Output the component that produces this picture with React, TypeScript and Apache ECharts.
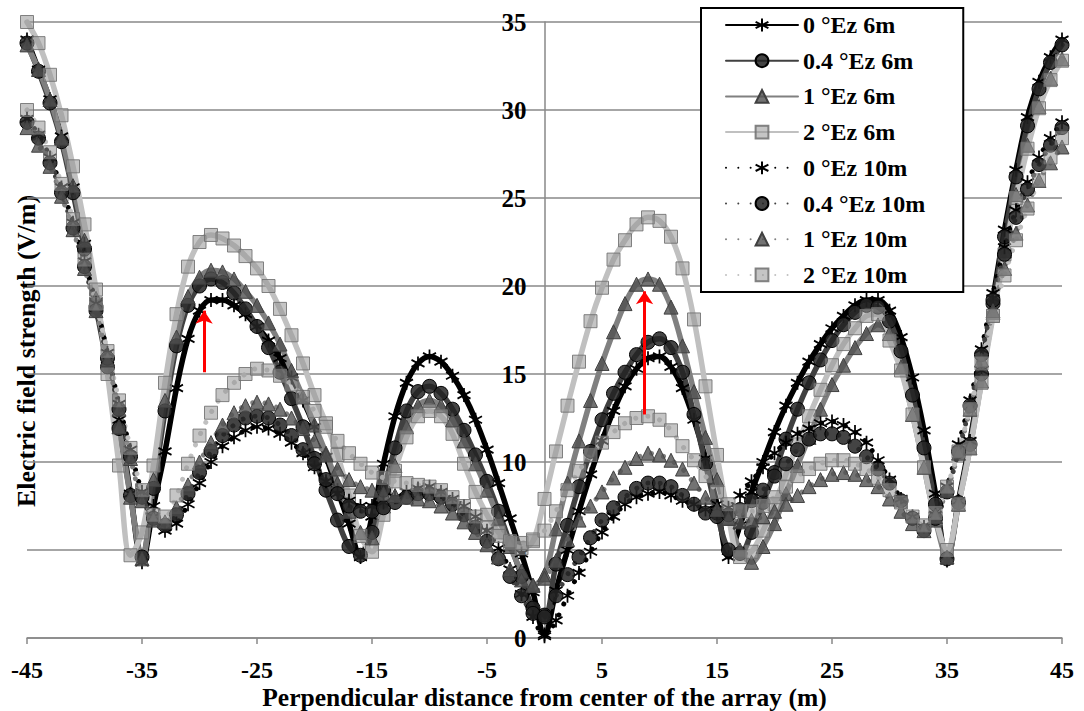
import React, { useEffect, useRef } from "react";
import * as echarts from "echarts";

const xs = [-45,-44,-43,-42,-41,-40,-39,-38,-37,-36,-35,-34,-33,-32,-31,-30,-29,-28,-27,-26,-25,-24,-23,-22,-21,-20,-19,-18,-17,-16,-15,-14,-13,-12,-11,-10,-9,-8,-7,-6,-5,-4,-3,-2,-1,0,1,2,3,4,5,6,7,8,9,10,11,12,13,14,15,16,17,18,19,20,21,22,23,24,25,26,27,28,29,30,31,32,33,34,35,36,37,38,39,40,41,42,43,44,45];

const names = ["0 °Ez 6m", "0.4 °Ez 6m", "1 °Ez 6m", "2 °Ez 6m", "0 °Ez 10m", "0.4 °Ez 10m", "1 °Ez 10m", "2 °Ez 10m"];

const ez0_6m = [34.0,32.3,30.6,28.5,25.6,22.4,19.1,15.8,12.4,8.2,4.3,7.5,10.6,14.2,17.0,18.6,19.2,19.2,18.9,18.4,17.7,16.9,15.9,14.8,13.5,12.0,10.3,8.4,6.5,4.6,6.9,9.9,12.6,14.5,15.6,16.0,15.7,14.9,13.8,12.4,10.7,8.8,6.8,4.8,2.6,0.2,2.7,5.0,7.2,9.3,11.2,12.9,14.3,15.3,15.9,16.0,15.4,14.2,12.4,10.2,7.6,4.6,6.4,8.3,10.0,11.7,13.2,14.5,15.7,16.7,17.6,18.3,18.9,19.2,19.2,18.6,17.1,14.8,11.8,8.2,4.4,7.8,11.2,15.2,19.3,23.2,26.6,29.6,31.6,33.0,34.0];
const ez04_6m = [33.8,32.2,30.4,28.2,25.3,22.1,18.8,15.4,11.9,8.1,4.6,8.5,12.9,16.6,18.9,20.0,20.4,20.2,19.6,18.7,17.7,16.5,15.1,13.6,12.0,10.2,8.4,6.7,5.2,4.7,6.0,8.4,10.8,12.9,14.0,14.3,13.9,13.0,11.8,10.4,8.9,7.2,5.4,3.5,1.7,1.3,4.2,6.4,8.6,10.6,12.4,13.9,15.1,16.1,16.8,17.0,16.5,15.1,12.7,9.9,7.1,5.0,4.8,6.0,7.7,9.4,11.3,13.0,14.5,15.8,16.9,17.8,18.5,18.9,18.8,18.0,16.3,13.8,10.8,7.6,4.5,7.7,11.0,15.0,19.0,22.8,26.2,29.1,31.2,32.7,33.7];
const ez1_6m = [33.7,32.3,30.6,28.4,25.7,22.6,19.3,15.8,12.0,8.0,4.5,9.0,13.5,17.1,19.4,20.5,20.9,20.8,20.4,19.7,18.9,17.9,16.7,15.2,13.7,12.1,10.5,8.8,7.2,6.0,5.7,7.5,9.8,12.0,13.2,13.5,13.2,12.4,11.2,9.9,8.4,6.8,5.2,3.8,3.0,3.6,6.2,8.8,11.2,13.5,15.6,17.4,19.0,20.1,20.4,20.1,18.8,16.6,14.0,11.4,9.0,6.8,5.0,4.3,5.2,6.5,8.2,9.8,11.4,13.0,14.4,15.5,16.5,17.3,17.8,17.3,15.4,12.7,9.7,6.7,4.6,7.6,10.8,14.6,18.5,22.0,25.2,28.0,30.2,31.8,32.9];
const ez2_6m = [35.0,33.8,32.0,29.7,26.8,23.5,19.8,15.0,9.8,4.7,6.0,9.8,14.5,18.4,21.1,22.5,22.9,22.7,22.3,21.7,21.0,20.0,18.7,17.2,15.6,13.8,12.2,10.4,8.1,5.8,4.9,7.0,9.5,11.4,12.6,12.9,12.6,11.6,9.9,8.3,7.0,6.0,5.4,5.1,5.5,7.9,10.6,13.2,15.7,18.0,19.9,21.5,22.6,23.5,23.9,23.7,22.8,21.0,18.1,14.3,10.4,6.9,4.6,4.9,6.1,7.6,9.3,11.0,12.6,14.1,15.5,16.7,17.6,18.3,18.4,16.9,15.2,12.7,9.7,6.8,5.0,7.6,10.8,14.5,18.3,21.8,25.0,27.8,30.1,31.7,32.8];
const ez0_10m = [29.5,28.6,27.3,25.6,23.6,21.4,19.0,16.2,13.3,10.7,8.3,6.9,6.1,6.5,7.6,8.8,10.0,10.9,11.4,11.8,12.0,11.9,11.6,11.1,10.5,9.7,8.9,8.2,7.8,7.5,7.5,7.7,8.0,8.3,8.5,8.6,8.3,7.9,7.5,6.9,6.1,5.1,3.9,2.5,1.2,0.1,1.0,2.4,3.7,4.9,6.0,6.9,7.6,8.0,8.2,8.3,8.1,7.8,7.6,7.3,7.1,7.4,8.1,8.9,9.7,10.5,11.1,11.6,11.9,12.2,12.3,12.1,11.7,11.1,10.1,9.0,7.9,6.9,6.3,7.0,8.6,11.0,13.5,16.4,19.6,22.2,24.3,25.9,27.3,28.4,29.3];
const ez04_10m = [29.3,28.4,27.0,25.3,23.3,21.1,18.6,15.9,13.0,10.3,8.0,6.8,6.4,7.0,8.2,9.4,10.6,11.5,12.1,12.5,12.6,12.5,12.1,11.5,10.7,9.9,9.0,8.2,7.5,7.2,7.2,7.4,7.7,8.0,8.2,8.2,8.0,7.6,7.0,6.3,5.5,4.5,3.5,2.4,1.4,1.2,2.4,3.6,4.6,5.7,6.7,7.4,8.0,8.5,8.8,8.8,8.6,8.1,7.6,7.1,6.9,7.0,7.3,7.8,8.4,9.2,9.9,10.7,11.3,11.6,11.6,11.4,10.9,10.3,9.6,8.8,7.8,6.8,6.1,6.8,8.3,10.6,13.2,16.1,19.2,21.8,23.9,25.5,26.9,28.0,29.0];
const ez1_10m = [29.0,28.0,26.8,25.1,23.2,21.0,18.6,15.8,13.0,10.2,7.8,6.7,6.6,7.4,8.7,10.0,11.1,12.1,12.8,13.2,13.4,13.3,13.0,12.5,11.9,11.2,10.4,9.6,9.0,8.6,8.4,8.2,8.1,8.0,7.9,7.8,7.5,7.1,6.6,6.0,5.3,4.6,3.9,3.3,3.0,3.4,4.4,5.6,6.7,7.5,8.3,9.1,9.7,10.2,10.5,10.4,10.1,9.6,8.8,8.0,7.3,6.8,6.6,6.7,6.9,7.2,7.6,8.1,8.6,9.0,9.3,9.4,9.3,9.0,8.6,7.9,7.2,6.5,6.1,6.9,8.4,10.5,13.0,15.8,18.6,21.0,23.0,24.6,26.0,27.0,27.9];
const ez2_10m = [30.0,29.0,27.6,25.8,23.8,21.5,19.0,16.3,13.5,10.8,8.4,7.0,6.9,8.1,9.9,11.5,12.8,13.8,14.5,15.0,15.3,15.2,14.9,14.4,13.7,12.9,12.0,11.2,10.5,9.9,9.4,9.1,8.9,8.8,8.7,8.6,8.4,8.0,7.5,6.9,6.3,5.8,5.5,5.4,5.6,6.1,7.2,8.4,9.5,10.4,11.1,11.7,12.2,12.5,12.6,12.4,11.8,10.9,10.1,9.2,8.3,7.6,7.2,7.2,7.5,8.0,8.6,9.2,9.6,9.9,10.1,10.1,9.9,9.6,9.1,8.4,7.7,6.9,6.4,7.1,8.6,10.6,13.0,15.6,18.3,20.6,22.6,24.4,26.0,27.3,28.4];

const arrowX = [-29.6, 8.7];
const arrowFrom = [15.1, 12.7];
const arrowTo = [18.6, 19.7];

const FONT = "Liberation Serif";
const STAR = "path://M0,-10L0,10M-8.66,-5L8.66,5M-8.66,5L8.66,-5";

const seriesValues = [ez0_6m, ez04_6m, ez1_6m, ez2_6m, ez0_10m, ez04_10m, ez1_10m, ez2_10m];
const lineColors = ["#000000", "#404040", "#808080", "#c0c0c0"];
const symbols = [STAR, "circle", "triangle", "rect"];
const symbolFills = ["#000000", "rgba(35,35,35,0.85)", "rgba(80,80,80,0.8)", "rgba(150,150,150,0.55)"];
const symbolBorders = ["#000000", "#000000", "#404040", "rgba(110,110,110,0.85)"];
const symbolBorderWidths = [1.8, 1, 1, 1];
const symbolSizes = [[13, 14], 14, 14, 13];

function buildSeries(): any[] {
  return seriesValues.map((vals, i) => {
    const k = i % 4;
    const dotted = i >= 4;
    const s: any = {
      name: names[i],
      type: "line",
      data: xs.map((x, j) => [x, vals[j]]),
      smooth: 0.35,
      showAllSymbol: true,
      symbol: symbols[k],
      symbolSize: symbolSizes[k],
      lineStyle: {
        color: lineColors[k],
        width: dotted ? 5 : 5.5,
        type: dotted ? [0.01, 12.3] : "solid",
        cap: "round",
      },
      itemStyle: {
        color: symbolFills[k],
        borderColor: symbolBorders[k],
        borderWidth: symbolBorderWidths[k],
      },
      emphasis: { disabled: true },
    };
    if (i === seriesValues.length - 1) {
      s.markLine = {
        silent: true,
        symbol: ["none", "arrow"],
        symbolSize: 13,
        label: { show: false },
        lineStyle: { color: "#ff0000", width: 3, type: "solid" },
        itemStyle: { color: "#ff0000" },
        data: arrowX.map((x, a) => [
          { coord: [x, arrowFrom[a]] },
          { coord: [x, arrowTo[a]] },
        ]),
      };
    }
    return s;
  });
}

export default function App() {
  const ref = useRef<HTMLDivElement>(null);
  useEffect(() => {
    document.body.style.margin = "0";
    if (!ref.current) return;
    const chart = echarts.init(ref.current, undefined, { renderer: "svg" });
    chart.setOption({
      animation: false,
      backgroundColor: "#ffffff",
      textStyle: { fontFamily: FONT },
      grid: { left: 27, right: 22, top: 22, bottom: 73, containLabel: false, outerBoundsMode: "none" },
      xAxis: {
        type: "value",
        min: -45,
        max: 45,
        interval: 10,
        name: "Perpendicular distance from center of the array (m)",
        nameLocation: "middle",
        nameGap: 47,
        nameMoveOverlap: false,
        nameTextStyle: { fontFamily: FONT, fontWeight: "bold", fontSize: 25.5, color: "#000", verticalAlign: "top", lineHeight: 24 },
        axisLine: { show: true, lineStyle: { color: "#888", width: 1.5 } },
        axisTick: { show: true, inside: false, length: 6, lineStyle: { color: "#888", width: 1.5 } },
        axisLabel: { fontFamily: FONT, fontWeight: "bold", fontSize: 24, color: "#000", margin: 22, lineHeight: 20 },
        splitLine: { show: false },
      },
      yAxis: {
        type: "value",
        min: 0,
        max: 35,
        interval: 5,
        position: "left",
        offset: -517.5,
        axisLine: { show: true, onZero: false, lineStyle: { color: "#888", width: 1.5 } },
        axisTick: { show: false },
        axisLabel: { fontFamily: FONT, fontWeight: "bold", fontSize: 25, color: "#000", margin: 18 },
        splitLine: { show: true, lineStyle: { color: "#888", width: 1.5 } },
      },
      legend: {
        orient: "vertical",
        left: 701,
        top: 8,
        itemWidth: 72,
        itemHeight: 16,
        itemGap: 11.7,
        padding: [5, 38, 5, 24],
        borderColor: "#000",
        borderWidth: 2,
        backgroundColor: "#ffffff",
        textStyle: { fontFamily: FONT, fontWeight: "bold", fontSize: 24, color: "#000", lineHeight: 24 },
        data: names,
      },
      graphic: [
        {
          type: "text",
          x: 26,
          y: 351,
          rotation: Math.PI / 2,
          style: {
            text: "Electric field strength (V/m)",
            fontFamily: FONT,
            fontWeight: "bold",
            fontSize: 26,
            fill: "#000",
            align: "center",
            verticalAlign: "middle",
          },
        },
      ],
      series: buildSeries(),
    });
    return () => chart.dispose();
  }, []);
  return <div ref={ref} style={{ width: 1084, height: 711 }} />;
}
